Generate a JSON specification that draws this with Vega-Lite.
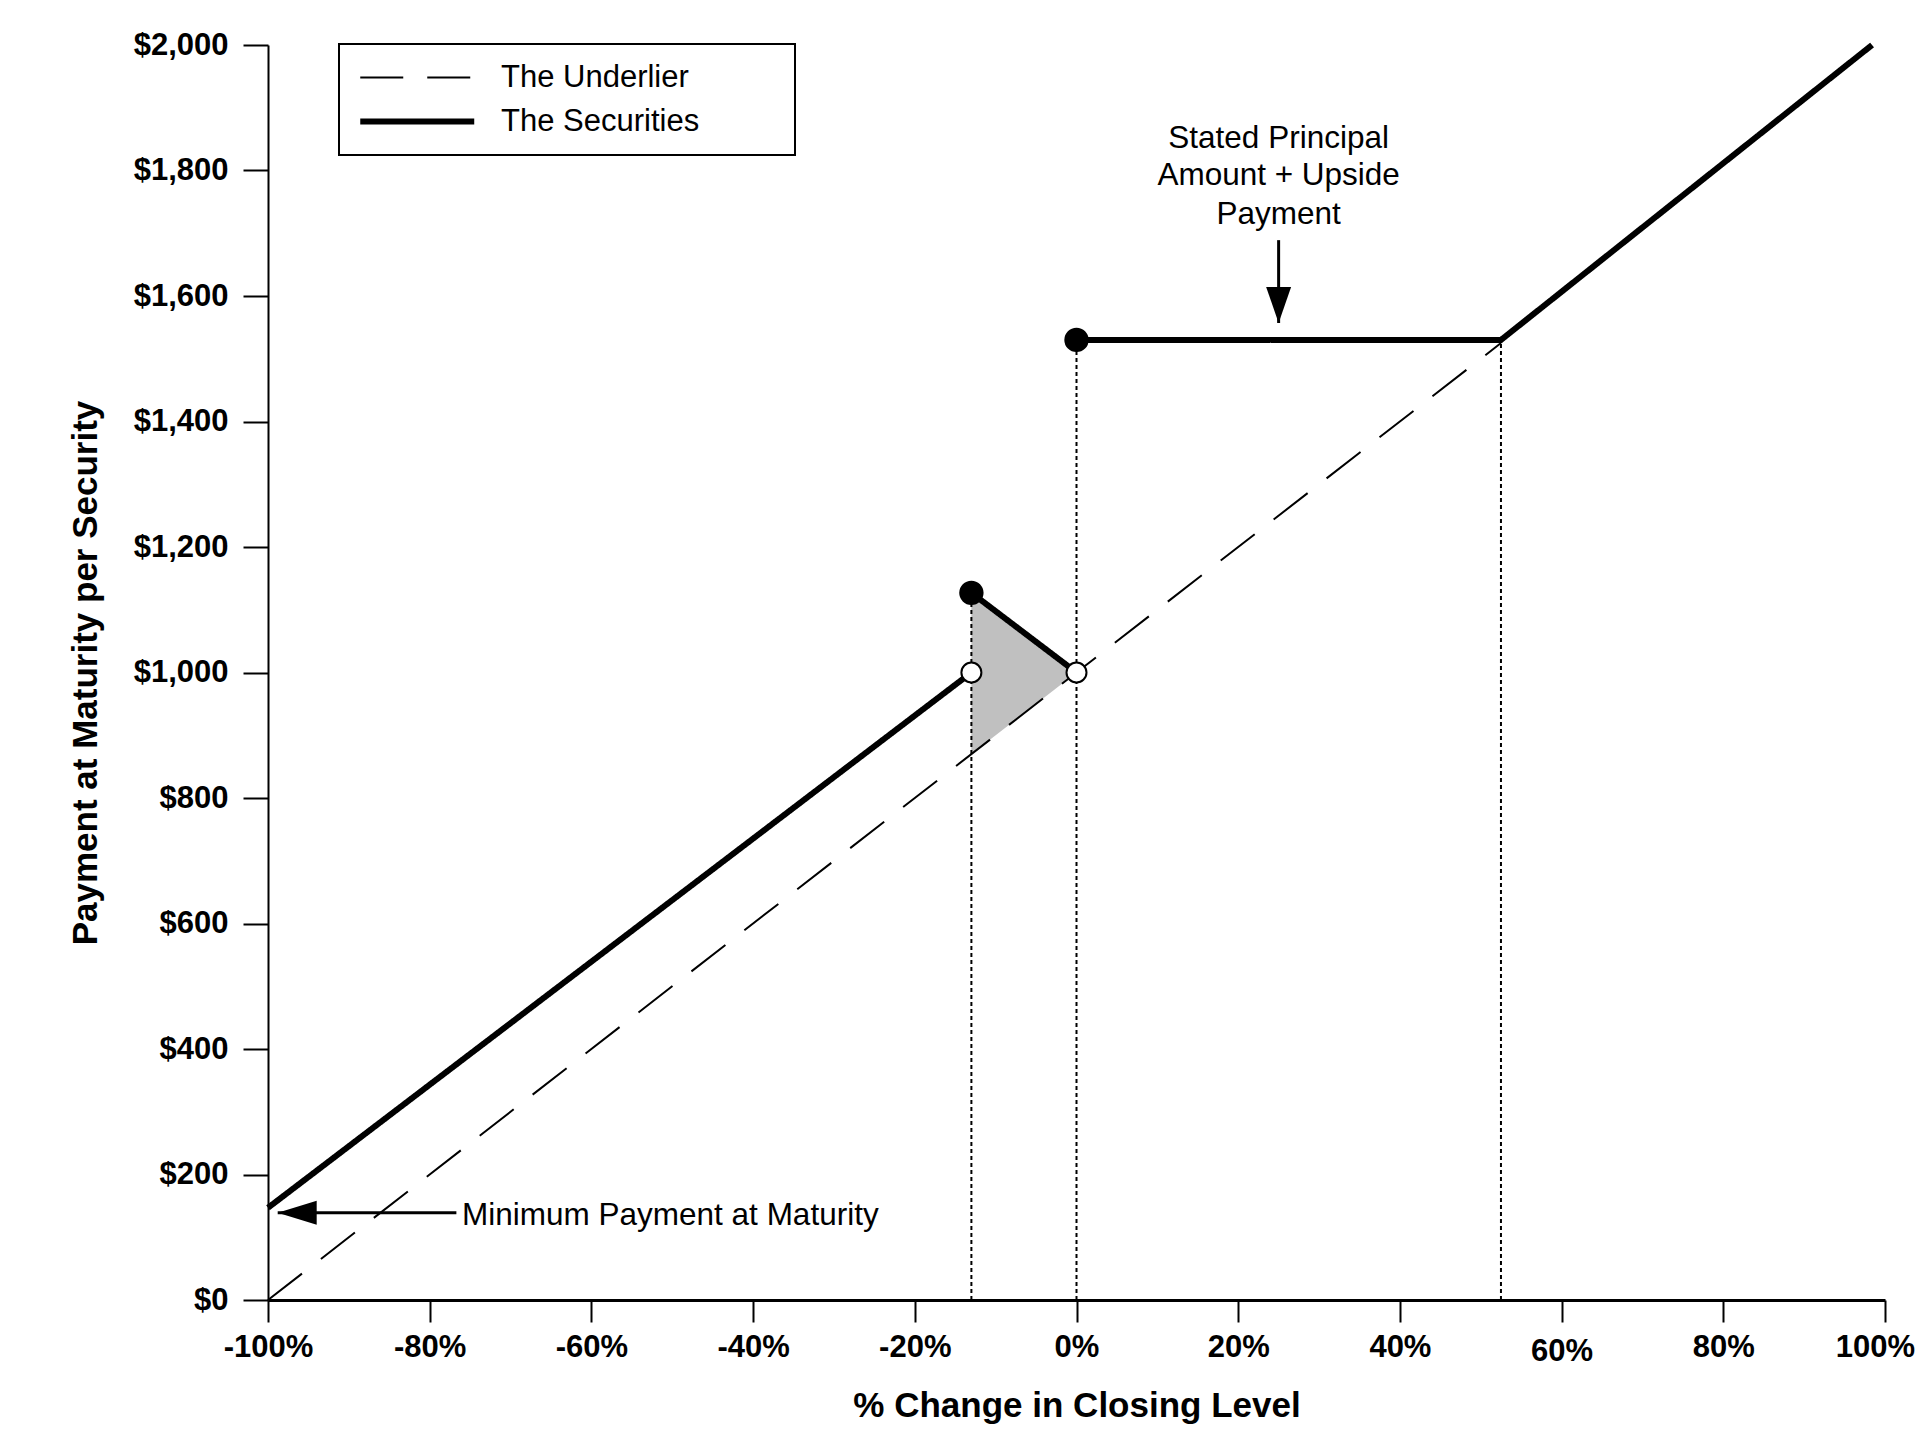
{
  "$schema": "https://vega.github.io/schema/vega-lite/v6.json",
  "width": 1617,
  "height": 1255,
  "autosize": "none",
  "padding": {"left": 268, "top": 45, "right": 37, "bottom": 148},
  "background": "white",
  "config": {
    "view": {"stroke": null},
    "font": "Liberation Sans",
    "axis": {
      "grid": false,
      "domainColor": "black",
      "tickColor": "black",
      "tickWidth": 2,
      "labelColor": "black",
      "titleColor": "black",
      "labelFont": "Liberation Sans",
      "titleFont": "Liberation Sans",
      "labelFontSize": 31,
      "labelFontWeight": "bold",
      "titleFontSize": 35,
      "titleFontWeight": "bold",
      "labelFlush": false,
      "labelOverlap": false
    },
    "legend": {
      "title": null,
      "orient": "none",
      "legendX": 71,
      "legendY": -1,
      "symbolType": "M-1,0L7,0",
      "symbolSize": 812,
      "symbolStrokeColor": "black",
      "labelFont": "Liberation Sans",
      "labelFontSize": 31,
      "labelColor": "black",
      "labelLimit": 600,
      "labelOffset": 109,
      "padding": 18,
      "rowPadding": 11,
      "strokeColor": "black",
      "strokeWidth": 2,
      "fillColor": "white"
    }
  },
  "datasets": {
    "buffer": [
      {"pct": -13, "val": 870, "val2": 1127},
      {"pct": 0, "val": 1000, "val2": 1000}
    ],
    "dotted": [
      {"pct": -13, "val": 0, "val2": 1127},
      {"pct": 0, "val": 0, "val2": 1530},
      {"pct": 52.5, "val": 0, "val2": 1530}
    ],
    "lines": [
      {"series": "The Underlier", "seg": "u", "pct": -100, "val": 0},
      {"series": "The Underlier", "seg": "u", "pct": 52.5, "val": 1525},
      {"series": "The Securities", "seg": "s1", "pct": -100, "val": 147},
      {"series": "The Securities", "seg": "s1", "pct": -13, "val": 1000},
      {"series": "The Securities", "seg": "s2", "pct": -13, "val": 1127},
      {"series": "The Securities", "seg": "s2", "pct": 0, "val": 1000},
      {"series": "The Securities", "seg": "s3", "pct": 0, "val": 1530},
      {"series": "The Securities", "seg": "s3", "pct": 52.5, "val": 1530},
      {"series": "The Securities", "seg": "s3", "pct": 98.4, "val": 2000}
    ],
    "shafts": [
      {"pct": -98.8, "pct2": -76.7, "val": 139, "val2": 139},
      {"pct": 25, "pct2": 25, "val": 1557, "val2": 1689}
    ],
    "heads": [
      {"pct": -98.8, "val": 139, "dir": "left"},
      {"pct": 25, "val": 1557, "dir": "down"}
    ],
    "dots": [
      {"pct": -13, "val": 1127, "kind": "filled"},
      {"pct": 0, "val": 1530, "kind": "filled"},
      {"pct": -13, "val": 1000, "kind": "open"},
      {"pct": 0, "val": 1000, "kind": "open"}
    ],
    "minNote": [
      {"pct": -76, "val": 134, "label": "Minimum Payment at Maturity"}
    ],
    "upNote": [
      {"pct": 25, "val": 1850, "label": "Stated Principal"},
      {"pct": 25, "val": 1791, "label": "Amount + Upside"},
      {"pct": 25, "val": 1729, "label": "Payment"}
    ]
  },
  "encoding": {
    "x": {
      "field": "pct",
      "type": "quantitative",
      "scale": {"domain": [-100, 100], "nice": false, "zero": false},
      "axis": {
        "title": "% Change in Closing Level",
        "values": [-100, -80, -60, -40, -20, 0, 20, 40, 60, 80, 100],
        "labelExpr": "datum.value + '%'",
        "labelOffset": {"condition": {"test": "datum.value == 100", "value": -10}, "value": 0},
        "labelPadding": {"condition": {"test": "datum.value == 60", "value": 14}, "value": 10},
        "domainWidth": 3,
        "tickSize": 22,
        "titlePadding": 22
      }
    },
    "y": {
      "field": "val",
      "type": "quantitative",
      "scale": {"domain": [0, 2000], "nice": false},
      "axis": {
        "title": "Payment at Maturity per Security",
        "values": [0, 200, 400, 600, 800, 1000, 1200, 1400, 1600, 1800, 2000],
        "format": "$,d",
        "domainWidth": 2,
        "tickSize": 25,
        "labelPadding": 15,
        "titlePadding": 30
      }
    }
  },
  "layer": [
    {
      "data": {"name": "buffer"},
      "mark": {"type": "area", "color": "#c0c0c0", "opacity": 1},
      "encoding": {"y2": {"field": "val2"}}
    },
    {
      "data": {"name": "dotted"},
      "mark": {"type": "rule", "color": "black", "strokeWidth": 2, "strokeDash": [4, 3]},
      "encoding": {"y2": {"field": "val2"}}
    },
    {
      "data": {"name": "lines"},
      "mark": {"type": "line", "color": "black", "strokeCap": "butt"},
      "encoding": {
        "detail": {"field": "seg", "type": "nominal"},
        "strokeDash": {
          "field": "series",
          "type": "nominal",
          "scale": {"domain": ["The Underlier", "The Securities"], "range": [[43, 24], [1, 0]]},
          "legend": {
            "labelExpr": "datum.label + '\u00a0\u00a0\u00a0\u00a0\u00a0\u00a0\u00a0\u00a0\u00a0\u200b'"
          }
        },
        "strokeWidth": {
          "field": "series",
          "type": "ordinal",
          "scale": {"domain": ["The Underlier", "The Securities"], "range": [2, 6]},
          "legend": {
            "labelExpr": "datum.label + '\u00a0\u00a0\u00a0\u00a0\u00a0\u00a0\u00a0\u00a0\u00a0\u200b'"
          }
        }
      }
    },
    {
      "data": {"name": "shafts"},
      "mark": {"type": "rule", "color": "black", "strokeWidth": 3},
      "encoding": {"x2": {"field": "pct2"}, "y2": {"field": "val2"}}
    },
    {
      "data": {"name": "heads"},
      "mark": {"type": "point", "filled": true, "color": "black", "opacity": 1, "size": 6084, "strokeWidth": 0},
      "encoding": {
        "shape": {
          "field": "dir",
          "type": "nominal",
          "scale": {"domain": ["left", "down"], "range": ["M0,0L1,-0.31L1,0.31Z", "M0,0L-0.32,-0.923L0.32,-0.923Z"]},
          "legend": null
        }
      }
    },
    {
      "data": {"name": "dots"},
      "mark": {"type": "point", "shape": "circle", "opacity": 1, "stroke": "black", "strokeWidth": 2},
      "encoding": {
        "fill": {
          "field": "kind",
          "type": "nominal",
          "scale": {"domain": ["filled", "open"], "range": ["black", "white"]},
          "legend": null
        },
        "size": {
          "field": "kind",
          "type": "nominal",
          "scale": {"domain": ["filled", "open"], "range": [500, 400]},
          "legend": null
        }
      }
    },
    {
      "data": {"name": "minNote"},
      "mark": {"type": "text", "align": "left", "baseline": "middle", "font": "Liberation Sans", "fontSize": 31.5, "color": "black"},
      "encoding": {"text": {"field": "label"}}
    },
    {
      "data": {"name": "upNote"},
      "mark": {"type": "text", "align": "center", "baseline": "middle", "font": "Liberation Sans", "fontSize": 31.5, "color": "black"},
      "encoding": {"text": {"field": "label"}}
    }
  ]
}
